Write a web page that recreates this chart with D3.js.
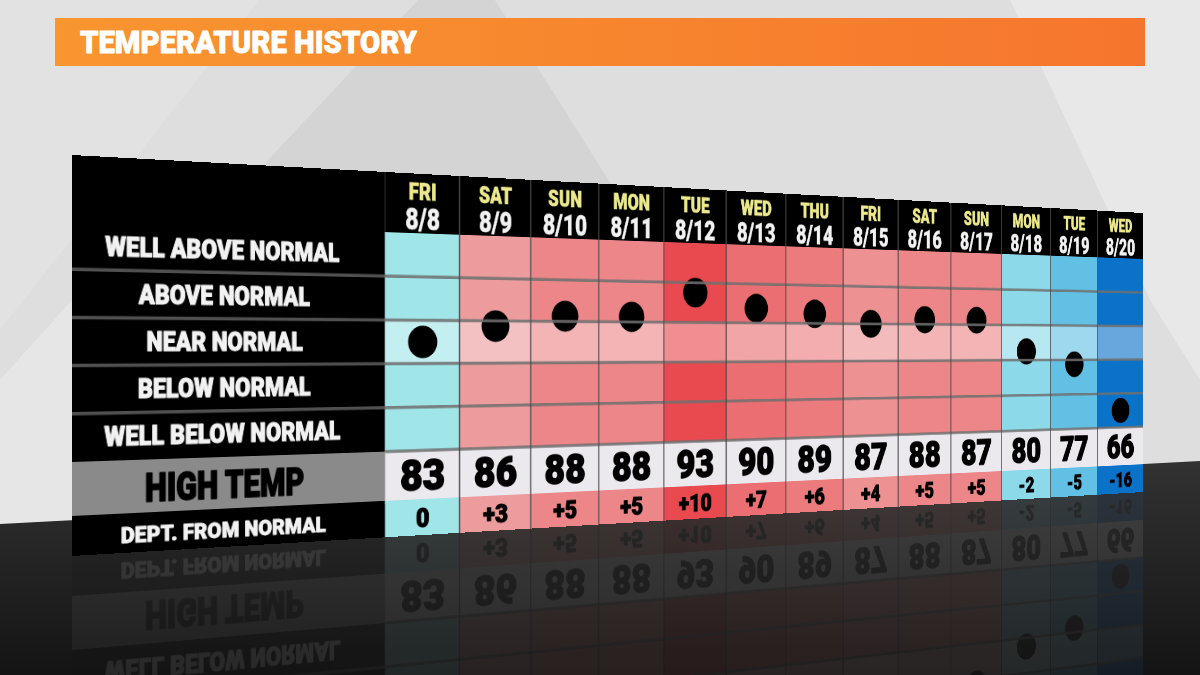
<!DOCTYPE html>
<html><head><meta charset="utf-8">
<script src="https://cdn.jsdelivr.net/npm/d3@7"></script>
<style>
html,body{margin:0;padding:0;width:1200px;height:675px;overflow:hidden;background:#dedede;}
#stage{position:relative;width:1200px;height:675px;overflow:hidden;}
.layer{position:absolute;left:0;top:0;}
.plane{position:absolute;left:0;top:0;transform-origin:0 0;}
svg text{font-family:Roboto,"Open Sans",sans-serif;font-weight:700;}
svg text.heavy{font-weight:900;stroke-linejoin:round;paint-order:stroke;}
</style></head><body><div id="stage"></div>
<script>
// ---------------- DATA ----------------
const title = "TEMPERATURE HISTORY";
const days = ["FRI","SAT","SUN","MON","TUE","WED","THU","FRI","SAT","SUN","MON","TUE","WED"];
const dates = ["8/8","8/9","8/10","8/11","8/12","8/13","8/14","8/15","8/16","8/17","8/18","8/19","8/20"];
const highTemps = [83,86,88,88,93,90,89,87,88,87,80,77,66];
const departures = [0,3,5,5,10,7,6,4,5,5,-2,-5,-16];
const levelLabels = ["WELL ABOVE NORMAL","ABOVE NORMAL","NEAR NORMAL","BELOW NORMAL","WELL BELOW NORMAL"];
const rowTitles = ["HIGH TEMP","DEPT. FROM NORMAL"];

// ---------------- LAYOUT ----------------
const W = 1539, H = 401;          // flat table size
const labelW = 343.5;
const headerH = 66, levelBottom = 307, deptTop = 361;
const tableQuad = [[72,155],[1143,213],[1143,492],[72,556]];
const reflQuad  = [[72,957],[1143,771],[1143,492],[72,556]];

const x = d3.scaleBand().domain(dates).range([labelW, W]);
const yLevel = d3.scaleBand().domain(levelLabels).range([headerH, levelBottom]);
const yDep = d3.scaleLinear().domain([20, -20]).range([headerH, levelBottom]);
const color = d3.scaleLinear()
  .domain([-16,-5,-2,0,3,4,5,6,7,10])
  .range(["#0b72c9","#62c0e4","#8cd9e9","#a0e5e8","#ec9c9d","#ed9193","#ec8689","#ec7b7e","#eb6f72","#e84a4f"]);

function homography(w,h,q){
  const [x0,y0]=q[0],[x1,y1]=q[1],[x2,y2]=q[2],[x3,y3]=q[3];
  const dx1=x1-x2, dx2=x3-x2, dx3=x0-x1+x2-x3;
  const dy1=y1-y2, dy2=y3-y2, dy3=y0-y1+y2-y3;
  const den=dx1*dy2-dx2*dy1;
  const g=(dx3*dy2-dx2*dy3)/den, hh=(dx1*dy3-dx3*dy1)/den;
  const a=x1-x0+g*x1, b=x3-x0+hh*x3, c=x0;
  const d=y1-y0+g*y1, e=y3-y0+hh*y3, f=y0;
  return `matrix3d(${a/w},${d/w},0,${g/w},${b/h},${e/h},0,${hh/h},0,0,1,0,${c},${f},0,1)`;
}

const stage = d3.select("#stage");

// ---------------- BACKGROUND ----------------
const bg = stage.append("svg").attr("class","layer").attr("width",1200).attr("height",675);
const defs = bg.append("defs");
const tg = defs.append("linearGradient").attr("id","titleGrad");
tg.append("stop").attr("offset","0%").attr("stop-color","#f8962f");
tg.append("stop").attr("offset","100%").attr("stop-color","#f6752d");
const fg = defs.append("linearGradient").attr("id","floorGrad").attr("x1",0).attr("y1",0).attr("x2",0).attr("y2",1);
fg.append("stop").attr("offset","0%").attr("stop-color","#323232");
fg.append("stop").attr("offset","100%").attr("stop-color","#141414");

bg.append("rect").attr("width",1200).attr("height",675).attr("fill","#dedede");
bg.append("polygon").attr("points","0,0 260,0 0,330").attr("fill","#fff").attr("opacity",0.12);
bg.append("polygon").attr("points","268,160 418,0 495,0 760,420 120,420").attr("fill","#000").attr("opacity",0.045);
bg.append("polygon").attr("points","1010,0 1200,0 1200,380 1150,300").attr("fill","#fff").attr("opacity",0.3);
bg.append("polygon").attr("points","0,380 72,300 72,530 0,530").attr("fill","#fff").attr("opacity",0.25);
bg.append("polygon").attr("points","0,524 1200,461 1200,675 0,675").attr("fill","url(#floorGrad)");

bg.append("rect").attr("x",55).attr("y",18).attr("width",1090).attr("height",48).attr("fill","url(#titleGrad)");
bg.append("text").attr("class","heavy").attr("x",80).attr("y",53).attr("font-size",32).attr("fill","#fff")
  .attr("stroke","#fff").attr("stroke-width",0.8)
  .attr("textLength",337).attr("lengthAdjust","spacingAndGlyphs").text(title);

// ---------------- TABLE ----------------
const labelWidths = [256,187,171,189,258];
function drawTable(svg, reflection){
  svg.append("rect").attr("x",0).attr("y",0).attr("width",labelW).attr("height",H).attr("fill","#000");
  svg.append("rect").attr("x",0).attr("y",levelBottom).attr("width",labelW).attr("height",deptTop-levelBottom).attr("fill","#8a8a8a");
  svg.append("rect").attr("x",labelW).attr("y",0).attr("width",W-labelW).attr("height",headerH).attr("fill","#000");

  const data = dates.map((d,i)=>({date:d, day:days[i], hi:highTemps[i], dep:departures[i]}));
  const bw = x.bandwidth();
  const cols = svg.selectAll("g.col").data(data).join("g").attr("class","col");
  cols.append("rect").attr("x",d=>x(d.date)).attr("y",headerH).attr("width",bw)
    .attr("height",levelBottom-headerH).attr("fill",d=>color(d.dep));
  cols.append("rect").attr("x",d=>x(d.date)).attr("y",yLevel("NEAR NORMAL")).attr("width",bw)
    .attr("height",yLevel.bandwidth()).attr("fill","#fff").attr("opacity",0.38);
  cols.append("rect").attr("x",d=>x(d.date)).attr("y",levelBottom).attr("width",bw)
    .attr("height",deptTop-levelBottom).attr("fill","#ebe8ee");
  cols.append("rect").attr("x",d=>x(d.date)).attr("y",deptTop).attr("width",bw)
    .attr("height",H-deptTop).attr("fill",d=>color(d.dep));

  // horizontal grid lines
  const bounds = levelLabels.slice(1).map(l=>yLevel(l));
  svg.selectAll("line.lh").data(bounds).join("line").attr("class","lh")
    .attr("x1",0).attr("x2",labelW).attr("y1",d=>d).attr("y2",d=>d)
    .attr("stroke","#505050").attr("stroke-width",3.5);
  svg.selectAll("line.ch").data(bounds.concat([levelBottom])).join("line").attr("class","ch")
    .attr("x1",labelW).attr("x2",W).attr("y1",d=>d).attr("y2",d=>d)
    .attr("stroke","#707070").attr("stroke-opacity",0.85).attr("stroke-width",3.5);
  // vertical column lines
  svg.selectAll("line.cv").data(dates.slice(1)).join("line").attr("class","cv")
    .attr("x1",d=>x(d)).attr("x2",d=>x(d)).attr("y1",0).attr("y2",H)
    .attr("stroke","#4a4a4a").attr("stroke-width",1.6);

  // dots
  cols.append("circle").attr("cx",d=>x(d.date)+bw/2).attr("cy",d=>yDep(d.dep)).attr("r",18).attr("fill","#000");

  // header text
  if(!reflection){
    cols.append("text").attr("class","heavy").attr("text-anchor","middle").attr("font-size",26).attr("fill","#ece98d")
      .attr("stroke","#ece98d").attr("stroke-width",0.6)
      .attr("transform",d=>`translate(${x(d.date)+bw/2},29) scale(0.88,1)`).text(d=>d.day);
    cols.append("text").attr("class","heavy").attr("text-anchor","middle").attr("font-size",34).attr("fill","#f2f2f2")
      .attr("stroke","#f2f2f2").attr("stroke-width",0.4)
      .attr("transform",d=>`translate(${x(d.date)+bw/2},62) scale(0.84,1)`).text(d=>d.date);
  }
  // values
  cols.append("text").attr("class","heavy").attr("text-anchor","middle").attr("font-size",48).attr("fill","#000")
    .attr("stroke","#000").attr("stroke-width",1.6)
    .attr("x",d=>x(d.date)+bw/2).attr("y",(levelBottom+deptTop)/2+17).text(d=>d.hi);
  cols.append("text").attr("class","heavy").attr("text-anchor","middle").attr("font-size",29).attr("fill","#000")
    .attr("stroke","#000").attr("stroke-width",1)
    .attr("x",d=>x(d.date)+bw/2).attr("y",(deptTop+H)/2+11).text(d=>d.dep>0?"+"+d.dep:String(d.dep));

  // label panel text
  const cx = labelW*0.47;
  const lvl = reflection ? levelLabels.slice(4) : levelLabels;
  svg.selectAll("text.lv").data(lvl).join("text").attr("class","lv heavy")
    .attr("x",cx).attr("y",d=>yLevel(d)+yLevel.bandwidth()/2+9.6).attr("text-anchor","middle")
    .attr("font-size",27).attr("fill","#f2f2f2").attr("stroke","#f2f2f2").attr("stroke-width",1)
    .attr("textLength",d=>labelWidths[levelLabels.indexOf(d)]).attr("lengthAdjust","spacingAndGlyphs").text(d=>d);
  svg.append("text").attr("class","heavy").attr("x",cx).attr("y",(levelBottom+deptTop)/2+16).attr("text-anchor","middle")
    .attr("font-size",40).attr("fill","#000").attr("stroke","#000").attr("stroke-width",1.6)
    .attr("textLength",174).attr("lengthAdjust","spacingAndGlyphs").text(rowTitles[0]);
  svg.append("text").attr("class","heavy").attr("x",cx).attr("y",(deptTop+H)/2+10).attr("text-anchor","middle")
    .attr("font-size",22).attr("fill","#f2f2f2").attr("stroke","#f2f2f2").attr("stroke-width",0.8)
    .attr("textLength",224).attr("lengthAdjust","spacingAndGlyphs").text(rowTitles[1]);
}

const refl = stage.append("div").attr("class","plane")
  .style("width",W+"px").style("height",H+"px")
  .style("transform",homography(W,H,reflQuad)).style("opacity",0.09);
drawTable(refl.append("svg").attr("width",W).attr("height",H), true);

const table = stage.append("div").attr("class","plane")
  .style("width",W+"px").style("height",H+"px")
  .style("transform",homography(W,H,tableQuad));
drawTable(table.append("svg").attr("width",W).attr("height",H), false);
</script>
</body></html>
